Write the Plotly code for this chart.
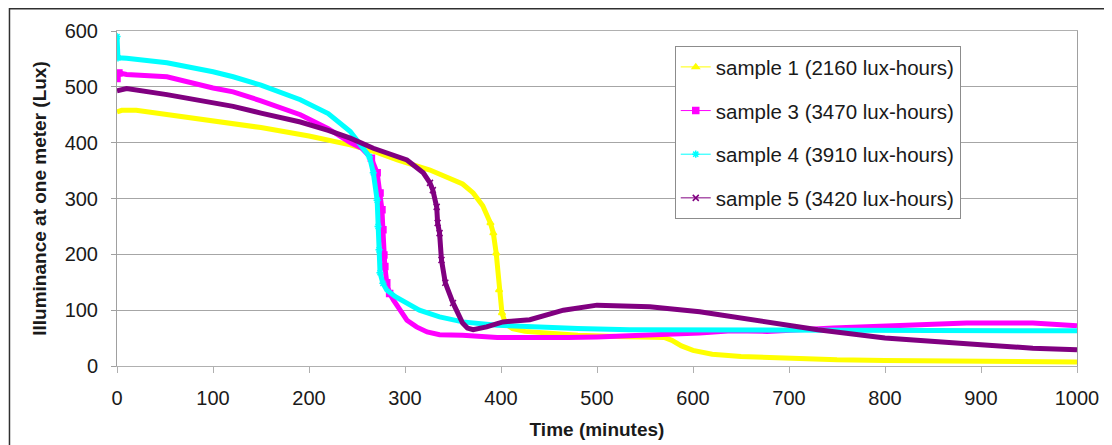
import plotly.graph_objects as go

# ---- data ----
t1 = [0, 5, 20, 50, 100, 150, 200, 243, 270, 292, 326, 344, 360, 371, 381, 389, 392, 395, 398, 401, 405, 412, 425, 450, 480, 520, 560, 570, 578, 588, 600, 620, 650, 700, 750, 800, 850, 900, 950, 1000]
v1 = [455, 458, 458, 451, 440, 427, 412, 396, 383, 369, 351, 339, 326, 310, 287, 256, 238, 202, 136, 95, 75, 67, 62, 58, 55, 53, 52, 51, 46, 36, 28, 21, 17, 13, 11, 10, 9, 8, 8, 7]

t3 = [0, 2, 10, 52, 100, 121, 150, 191, 220, 243, 255, 265, 271, 274, 276, 277, 278, 279, 281, 284, 288, 295, 302, 312, 323, 336, 360, 396, 430, 470, 500, 534, 573, 607, 640, 677, 746, 816, 885, 954, 1000]
v3 = [515, 525, 522, 518, 498, 491, 475, 450, 425, 400, 390, 372, 346, 310, 280, 244, 199, 178, 149, 130, 118, 98, 82, 70, 61, 56, 55, 51, 50, 51, 52, 54, 55, 59, 63, 62, 68, 73, 77, 77, 72]

t4 = [0, 1, 10, 52, 100, 121, 150, 191, 220, 243, 263, 267, 271, 272, 273, 274, 277, 281, 290, 302, 315, 336, 360, 396, 430, 480, 534, 600, 700, 800, 900, 1000]
v4 = [590, 552, 551, 543, 527, 518, 503, 477, 452, 420, 375, 346, 297, 250, 208, 167, 148, 136, 124, 113, 100, 88, 79, 73, 70, 67, 65, 65, 65, 65, 64, 63]

t5 = [0, 10, 52, 100, 121, 150, 191, 220, 243, 267, 302, 319, 326, 329, 333, 334, 336, 338, 342, 350, 360, 365, 371, 385, 402, 430, 465, 500, 534, 555, 607, 677, 730, 800, 868, 900, 954, 1000]
v5 = [493, 497, 486, 472, 465, 453, 437, 422, 408, 390, 369, 346, 328, 315, 285, 256, 238, 190, 149, 113, 77, 68, 65, 70, 79, 83, 100, 109, 108, 106, 97, 79, 65, 50, 41, 38, 32, 29]

names = ["sample 1 (2160 lux-hours)", "sample 3 (3470 lux-hours)",
         "sample 4 (3910 lux-hours)", "sample 5 (3420 lux-hours)"]
colors = ["#FFFF00", "#FF00FF", "#00FFFF", "#800080"]
symbols = ["triangle-up", "square", "asterisk-open", "x-thin-open"]

x_ticks = [0, 100, 200, 300, 400, 500, 600, 700, 800, 900, 1000]
y_ticks = [0, 100, 200, 300, 400, 500, 600]

series = [(t1, v1), (t3, v3), (t4, v4), (t5, v5)]

fig = go.Figure()
for (t, v), c, s in zip(series, colors, symbols):
    # dense sampling looks like a thick band
    fig.add_trace(go.Scatter(
        x=t, y=v, mode="lines", showlegend=False, hoverinfo="x+y",
        line=dict(color=c, width=5),
    ))
    # in the steep drops the individual samples are visible as markers
    steep = [i for i in range(len(t))
             if (i > 0 and abs(v[i] - v[i - 1]) / max(t[i] - t[i - 1], 1) > 4)
             or (i < len(t) - 1 and abs(v[i + 1] - v[i]) / max(t[i + 1] - t[i], 1) > 4)]
    fig.add_trace(go.Scatter(
        x=[t[i] for i in steep], y=[v[i] for i in steep], mode="markers", showlegend=False,
        marker=dict(symbol=s, size=6, color=c, line=dict(color=c, width=1.5)),
    ))
for i, (n, c, s) in enumerate(zip(names, colors, symbols)):
    fig.add_trace(go.Scatter(
        x=[None], y=[None], mode="lines+markers", name=n, legendgroup=f"g{i}",
        line=dict(color=c, width=1),
        marker=dict(symbol=s, size=6, color=c, line=dict(color=c, width=1.5)),
    ))

font_family = "Liberation Sans, Arial, sans-serif"
fig.update_layout(
    width=1104, height=437,
    margin=dict(l=109, r=35, t=23, b=79, autoexpand=False),
    paper_bgcolor="white", plot_bgcolor="white",
    font=dict(family=font_family, size=20, color="#1a1a1a"),
    showlegend=True,
    legend=dict(
        x=0.581, y=0.955, xanchor="left", yanchor="top",
        bordercolor="#8c8c8c", borderwidth=1, bgcolor="white",
        font=dict(size=20.5, family=font_family, color="#1a1a1a"),
        traceorder="grouped", tracegroupgap=14,
        entrywidth=272, entrywidthmode="pixels",
    ),
    xaxis=dict(
        range=[0, 1000], tickvals=x_ticks, ticktext=[str(v) for v in x_ticks],
        showgrid=False, showline=True, linecolor="#b0b0b0", linewidth=1, mirror=True,
        ticks="outside", ticklen=6, tickcolor="#b0b0b0", ticklabelstandoff=8,
        zeroline=False, automargin=False,
        title=dict(text="<b>Time (minutes)</b>", font=dict(size=19), standoff=14),
    ),
    yaxis=dict(
        range=[0, 600], tickvals=y_ticks, ticktext=[str(v) for v in y_ticks],
        showgrid=True, gridcolor="#a6a6a6", gridwidth=1,
        showline=True, linecolor="#a0a0a0", linewidth=1, mirror=True,
        ticks="outside", ticklen=5, tickcolor="#a0a0a0", ticklabelstandoff=9,
        zeroline=False, automargin=False,
        title=dict(text="<b>Illuminance at one meter (Lux)</b>", font=dict(size=19), standoff=12),
    ),
)

# outer chart frame
fig.add_shape(type="rect", xref="paper", yref="paper",
              x0=-0.1120, y0=-0.35, x1=1.1, y1=1.0665,
              line=dict(color="#303030", width=1.5), fillcolor="rgba(0,0,0,0)", layer="below")

fig.write_html("out.html")
